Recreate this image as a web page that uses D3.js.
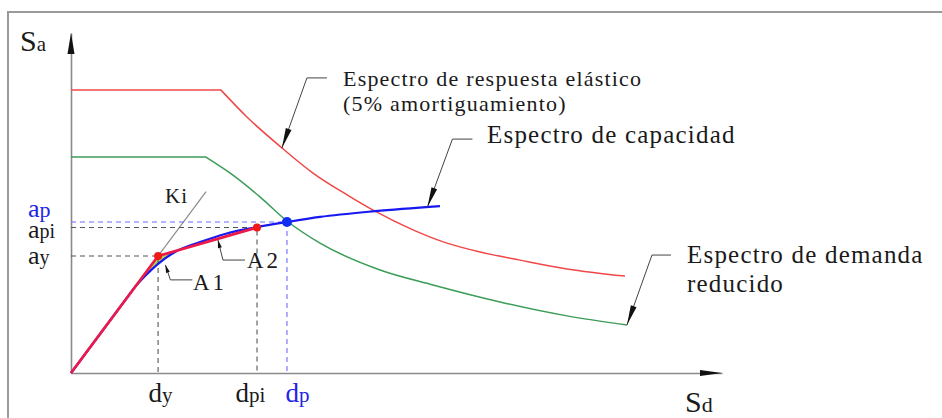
<!DOCTYPE html>
<html>
<head>
<meta charset="utf-8">
<script src="https://cdn.jsdelivr.net/npm/d3@7"></script>
<style>
  html, body { margin: 0; padding: 0; background: #fff; }
  svg { display: block; }
</style>
</head>
<body>
<svg id="chart" width="942" height="418"></svg>
<script>
// Spectral displacement Sd (cm) and spectral acceleration Sa (g)

// Elastic response spectrum, 5% damping
const elasticSd = [0, 9.22, 10.81, 12.96, 14.87, 16.96, 18.68, 21.01, 23.10, 25.13, 27.59, 30.48, 34.04];
const elasticSa = [0.832, 0.832, 0.753, 0.662, 0.588, 0.524, 0.476, 0.421, 0.382, 0.356, 0.332, 0.306, 0.285];

// Reduced demand spectrum
const demandSd = [0, 8.29, 9.95, 11.61, 13.27, 15.30, 18.99, 22.24, 26.36, 30.48, 34.16];
const demandSa = [0.635, 0.635, 0.582, 0.518, 0.447, 0.382, 0.303, 0.259, 0.209, 0.168, 0.141];

// Capacity spectrum (straight elastic branch, then curved)
const capacitySd = [0, 3.93, 4.55, 5.35, 6.39, 7.93, 9.46, 11.43, 13.27, 15.30, 18.68, 22.67];
const capacitySa = [0, 0.253, 0.285, 0.321, 0.356, 0.385, 0.409, 0.429, 0.444, 0.459, 0.476, 0.491];

// Bilinear representation: origin, yield point, trial point
const bilinearSd = [0, 5.35, 11.43];
const bilinearSa = [0, 0.344, 0.428];

// Performance point
const perfSd = 13.27;
const perfSa = 0.444;

// Initial stiffness Ki drawn up to this displacement
const kiEndSd = 8.3;

// Tick labels: [main, subscript]
const xTickLabels = [["d", "y"], ["d", "pi"], ["d", "p"]];
const yTickLabels = [["a", "y"], ["a", "pi"], ["a", "p"]];

// Annotation texts
const elasticLabel = ["Espectro de respuesta elástico", "(5% amortiguamiento)"];
const capacityLabel = ["Espectro de capacidad"];
const demandLabel = ["Espectro de demanda", "reducido"];

const SERIF = '"Liberation Serif", "Times New Roman", "DejaVu Serif", serif';

const svg = d3.select("#chart");

const x = d3.scaleLinear().domain([0, 40]).range([71, 722]);
const y = d3.scaleLinear().domain([0, 1]).range([373, 33]);

const zip = (a, b) => a.map((v, i) => [v, b[i]]);

// Frame
svg.append("rect")
  .attr("x", 8).attr("y", 12).attr("width", 960).attr("height", 430)
  .attr("fill", "none").attr("stroke", "#9a9a9a").attr("stroke-width", 2);

// Axes
const xAxis = svg.append("g").attr("transform", `translate(0,${y(0)})`)
  .call(d3.axisBottom(x).tickValues([bilinearSd[1], bilinearSd[2], perfSd]).tickSize(0).tickSizeOuter(0).tickFormat(""));
const yAxis = svg.append("g").attr("transform", `translate(${x(0)},0)`)
  .call(d3.axisLeft(y).tickValues([bilinearSa[1], bilinearSa[2], perfSa]).tickSize(0).tickSizeOuter(0).tickFormat(""));
[xAxis, yAxis].forEach(g => {
  g.attr("font-family", SERIF);
  g.select(".domain").attr("stroke", "#8a8a8a").attr("stroke-width", 1.6);
});

// Axis arrowheads
svg.append("path")
  .attr("d", `M${x(0)},${y(1)} L${x(0) - 3.5},${y(1) + 21} L${x(0) + 3.5},${y(1) + 21} Z`)
  .attr("fill", "#111");
svg.append("path")
  .attr("d", `M${x(40)},${y(0)} L${x(40) - 22},${y(0) - 3} L${x(40) - 22},${y(0) + 3} Z`)
  .attr("fill", "#111");

// Axis titles
const sa = svg.append("text").attr("x", 20).attr("y", 51).attr("font-family", SERIF).attr("fill", "#1a1a1a");
sa.append("tspan").attr("font-size", 30).text("S");
sa.append("tspan").attr("font-size", 21).text("a");
const sd = svg.append("text").attr("x", 685).attr("y", 412).attr("font-family", SERIF).attr("fill", "#1a1a1a");
sd.append("tspan").attr("font-size", 30).text("S");
sd.append("tspan").attr("font-size", 22).text("d");

// Line with a straight first segment and a smooth remainder
function piecewisePath(sds, sas) {
  const pts = zip(sds, sas);
  const first = d3.line().x(d => x(d[0])).y(d => y(d[1]))(pts.slice(0, 2));
  const rest = d3.line().x(d => x(d[0])).y(d => y(d[1])).curve(d3.curveMonotoneX)(pts.slice(1));
  return first + rest.replace(/^M[^CL]*/, "");
}

// Area A1 between bilinear and capacity curve
const a1 = [[3.93, 0.253], [bilinearSd[1], bilinearSa[1]], [6.39, 0.3575],
            [6.39, 0.356], [5.35, 0.321], [4.55, 0.285], [3.93, 0.253]];
svg.append("path")
  .attr("d", d3.line().x(d => x(d[0])).y(d => y(d[1]))(a1) + "Z")
  .attr("fill", "#a9d23c").attr("opacity", 0.9);

// Ki line (initial stiffness)
const kiSlope = bilinearSa[1] / bilinearSd[1];
svg.append("line")
  .attr("x1", x(0)).attr("y1", y(0))
  .attr("x2", x(kiEndSd)).attr("y2", y(kiSlope * kiEndSd))
  .attr("stroke", "#8c8c8c").attr("stroke-width", 1.2);

// Guide lines
function guide(sdv, sav, color) {
  svg.append("path")
    .attr("d", `M${x(0)},${y(sav)} H${x(sdv)} V${y(0)}`)
    .attr("fill", "none").attr("stroke", color).attr("stroke-width", 1.1)
    .attr("stroke-dasharray", "5,4");
}
guide(bilinearSd[1], bilinearSa[1], "#555");
guide(bilinearSd[2], bilinearSa[2], "#555");
guide(perfSd, perfSa, "#6b6bff");

// Spectra: flat plateau then descending branch
svg.append("path").attr("d", piecewisePath(elasticSd, elasticSa))
  .attr("fill", "none").attr("stroke", "#f04848").attr("stroke-width", 1.5);
svg.append("path").attr("d", piecewisePath(demandSd, demandSa))
  .attr("fill", "none").attr("stroke", "#3c9c58").attr("stroke-width", 1.5);

// Capacity spectrum
svg.append("path").attr("d", piecewisePath(capacitySd, capacitySa))
  .attr("fill", "none").attr("stroke", "#1818f0").attr("stroke-width", 2.2);

// Bilinear curve
svg.append("path")
  .attr("d", d3.line().x(d => x(d[0])).y(d => y(d[1]))(zip(bilinearSd, bilinearSa)))
  .attr("fill", "none").attr("stroke", "#ec1a48").attr("stroke-width", 2.7)
  .attr("stroke-linejoin", "round");

// Points
svg.selectAll("circle.pt").data([[bilinearSd[1], bilinearSa[1]], [bilinearSd[2], bilinearSa[2]]])
  .join("circle").attr("class", "pt")
  .attr("cx", d => x(d[0])).attr("cy", d => y(d[1])).attr("r", 4).attr("fill", "#f01818");
svg.append("circle").attr("cx", x(perfSd)).attr("cy", y(perfSa)).attr("r", 5).attr("fill", "#1030f0");

// Tick labels
const xTickDx = [2, -7, 10];
const xTickColor = ["#1a1a1a", "#1a1a1a", "#2323e6"];
xAxis.selectAll(".tick text").each(function (d, i) {
  const t = d3.select(this).text(null)
    .attr("y", 29).attr("dy", 0).attr("dx", xTickDx[i])
    .attr("text-anchor", "middle").attr("fill", xTickColor[i]);
  t.append("tspan").attr("font-size", 27).text(xTickLabels[i][0]);
  t.append("tspan").attr("font-size", 21).text(xTickLabels[i][1]);
});
const yTickDy = [7, 10, -6];
const yTickColor = ["#1a1a1a", "#1a1a1a", "#2323e6"];
const yTickSub = [20, 20, 22];
yAxis.selectAll(".tick text").each(function (d, i) {
  const t = d3.select(this).text(null)
    .attr("x", -43).attr("dy", 0).attr("y", yTickDy[i])
    .attr("text-anchor", "start").attr("fill", yTickColor[i]);
  t.append("tspan").attr("font-size", 26).text(yTickLabels[i][0]);
  t.append("tspan").attr("font-size", yTickSub[i]).text(yTickLabels[i][1]);
});

// Leader lines with long arrowheads
function leader(tip, elbow, end, headLen, headW) {
  svg.append("path")
    .attr("d", `M${end[0]},${end[1]} L${elbow[0]},${elbow[1]} L${tip[0]},${tip[1]}`)
    .attr("fill", "none").attr("stroke", "#444").attr("stroke-width", 1);
  const ang = Math.atan2(elbow[1] - tip[1], elbow[0] - tip[0]);
  const bx = tip[0] + headLen * Math.cos(ang), by = tip[1] + headLen * Math.sin(ang);
  const px = -Math.sin(ang) * headW / 2, py = Math.cos(ang) * headW / 2;
  svg.append("path")
    .attr("d", `M${tip[0]},${tip[1]} L${bx + px},${by + py} L${bx - px},${by - py} Z`)
    .attr("fill", "#111");
}
function annotate(sdv, sav, dxE, dyE, dxEnd, headLen, headW) {
  const tip = [x(sdv), y(sav)];
  leader(tip, [tip[0] + dxE, tip[1] + dyE], [tip[0] + dxEnd, tip[1] + dyE], headLen, headW);
}
annotate(elasticSd[3], elasticSa[3], 25, -70, 45, 20, 6);
annotate(21.9, 0.488, 25, -68, 45, 20, 6);
annotate(demandSd[demandSd.length - 1], demandSa[demandSa.length - 1], 25, -70, 44, 20, 6);
annotate(5.8, 0.318, 5, 15, 27, 8, 4);
annotate(9.03, 0.391, 5, 20, 27, 8, 4);

// Annotation texts
function label(x0, y0, size, spacing) {
  return svg.append("text").attr("x", x0).attr("y", y0)
    .attr("font-family", SERIF).attr("font-size", size)
    .attr("letter-spacing", spacing).attr("fill", "#1a1a1a");
}
function block(lines, x0, y0, size, lead) {
  const t = label(x0, y0, size, 1.2);
  lines.forEach((s, i) => t.append("tspan").attr("x", x0).attr("y", y0 + i * lead).text(s));
}
block(elasticLabel, 343, 86, 22, 25);
block(capacityLabel, 487, 143, 25, 0);
block(demandLabel, 687, 263, 25, 29);

label(165, 203, 21, 1).text("Ki");
label(193, 290, 23, 3).text("A1");
label(247, 268, 23, 3).text("A2");
</script>
</body>
</html>
